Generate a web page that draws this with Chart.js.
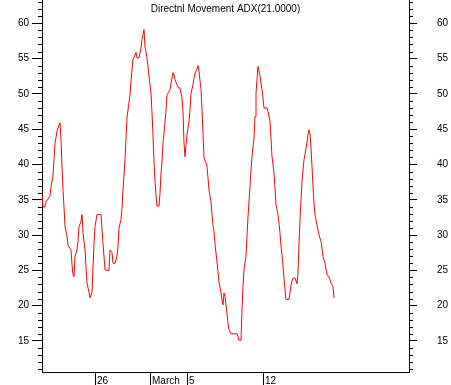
<!DOCTYPE html>
<html>
<head>
<meta charset="utf-8">
<script src="https://cdn.jsdelivr.net/npm/chart.js@4"></script>
<style>
  html, body { margin: 0; padding: 0; background: #fff; }
  #wrap { width: 451px; height: 385px; }
</style>
</head>
<body>
<div id="wrap"><canvas id="adx" width="451" height="385"></canvas></div>
<script>
// Bar number (intraday bars) and ADX value at that bar
const bars = [
  0,1,3,4,6,8,9,11,12,13,15,17,18,19,20,
  21,22,23,25,26,28,29,30,31,32,33,35,36,37,39,
  40,41,43,44,45,47,48,50,51,52,53,55,59,61,62,
  63,65,67,68,70,71,73,75,76,77,79,80,81,82,83,
  84,85,86,88,89,90,91,93,94,95,97,99,100,101,102,
  103,105,106,107,109,110,111,112,113,114,115,117,118,119,120,
  121,123,124,125,127,128,129,131,132,133,135,136,138,140,141,
  142,143,144,145,147,148,149,151,152,153,155,156,157,159,160,
  161,162,164,165,166,167,169,170,171,172,173,174,175,176,177,
  179,180,181,182,183,184,185,186,187,189,195,196,197,199,200,
  201,202,204,205,206,207,208,209,210,211,212,213,214,215,216,
  218,219,220,221,222,225,226,228,229,230,232,233,234,236,237,
  238,239,240,241,242,243,244,247,248,249,250,251,253,254,255,
  256,257,258,259,260,261,262,263,264,265,266,267,268,269,270,
  271,272,273,275,276,277,279,280,281,283,284,285,287,288,289,
  291,292
];
const adx = [
  35.7,34.0,34.0,34.7,35.1,35.5,36.9,38.3,40.7,43.0,44.7,45.6,45.9,43.5,39.7,
  36.4,34.0,31.2,29.8,28.6,28.1,27.9,25.8,24.4,24.1,27.0,27.9,29.1,31.2,31.9,
  32.9,30.3,27.9,25.5,23.2,21.9,21.1,21.9,25.5,28.8,31.2,32.9,32.9,28.8,27.0,
  25.1,25.0,25.0,27.9,27.5,26.0,26.0,27.0,28.4,31.0,32.2,33.8,36.4,38.5,40.7,
  43.7,46.6,47.7,49.9,51.8,53.4,54.9,55.5,55.9,55.1,55.1,56.5,57.7,58.4,59.1,
  56.7,55.1,53.9,52.5,50.1,47.3,44.2,40.4,37.6,35.7,34.1,34.1,35.9,38.8,40.4,
  43.0,45.9,47.7,49.9,50.3,50.6,51.5,53.0,52.7,52.0,51.3,50.9,50.8,49.4,47.5,
  43.0,41.1,42.8,44.2,46.1,47.7,50.1,51.3,52.2,52.9,53.5,54.0,53.2,50.6,47.7,
  44.4,40.9,40.2,39.7,38.1,36.4,34.7,32.9,31.4,30.5,28.8,27.4,26.2,24.8,23.3,
  21.8,20.8,20.1,21.8,21.3,20.1,18.9,17.5,16.6,16.0,16.0,15.6,15.1,15.1,19.4,
  22.7,25.1,27.0,29.8,32.6,34.7,36.9,39.2,41.1,42.5,43.7,46.8,50.1,52.0,53.9,
  52.5,51.5,50.6,49.4,48.0,48.0,47.5,46.1,43.7,41.1,38.8,36.6,34.3,32.9,31.7,
  30.3,28.4,27.2,25.5,23.9,22.2,20.9,20.9,21.8,22.9,23.5,23.9,23.9,23.5,23.1,
  24.6,28.8,32.2,35.0,37.6,39.2,40.7,41.4,42.3,43.2,44.2,44.9,44.4,42.3,39.7,
  36.9,34.5,32.9,31.4,30.7,30.0,29.1,28.1,27.0,26.0,25.1,24.4,24.0,23.7,23.2,
  22.7,21.1
];
const dateTicks = [53, 108, 145, 221];
const dateLabels = ['26', 'March', '5', '12'];
const yTicks = [15, 20, 25, 30, 35, 40, 45, 50, 55, 60];
const yMin = 10.6, yMax = 63.3;
const lastBar = 367;
const title = 'Directnl Movement ADX(21.0000)';

const FONT = '"Liberation Sans", Arial, sans-serif';

// minor ticks every unit + title drawn inside the plot
const extras = {
  id: 'extras',
  afterDraw(chart) {
    const {ctx, chartArea} = chart;
    const ys = chart.scales.y;
    ctx.save();
    ctx.strokeStyle = '#000';
    ctx.lineWidth = 1;
    ctx.beginPath();
    for (let v = Math.ceil(yMin); v <= Math.floor(yMax); v++) {
      if (v % 5 === 0) continue;
      const py = Math.round(ys.getPixelForValue(v)) + 0.5;
      ctx.moveTo(chartArea.left - 4, py); ctx.lineTo(chartArea.left, py);
      ctx.moveTo(chartArea.right, py); ctx.lineTo(chartArea.right + 4, py);
    }
    ctx.stroke();
    ctx.fillStyle = '#000';
    ctx.font = '10px ' + FONT;
    ctx.textAlign = 'center';
    ctx.textBaseline = 'middle';
    ctx.fillText(title, (chartArea.left + chartArea.right) / 2, 9);
    ctx.restore();
  }
};

const noPad = s => { s.paddingTop = 0; s.paddingBottom = 0; s.paddingLeft = 0; s.paddingRight = 0; };

new Chart(document.getElementById('adx'), {
  type: 'line',
  data: {
    datasets: [{
      data: bars.map((b, i) => ({x: b, y: adx[i]})),
      borderColor: '#ff0000',
      borderWidth: 1,
      pointRadius: 0,
      tension: 0,
      yAxisID: 'y'
    }]
  },
  options: {
    responsive: false,
    animation: false,
    layout: {padding: 0},
    plugins: {legend: {display: false}, tooltip: {enabled: false}},
    scales: {
      x: {
        type: 'linear', min: 0, max: lastBar,
        afterBuildTicks: s => { s.ticks = dateTicks.map(v => ({value: v})); },
        afterFit: s => { s.height = 13; noPad(s); },
        grid: {drawOnChartArea: false, color: '#000', tickLength: 13},
        border: {color: '#000'},
        ticks: {
          callback: (v, i) => dateLabels[i],
          align: 'start', labelOffset: 2, padding: -10, maxRotation: 0,
          color: '#000', font: {family: FONT, size: 10}
        }
      },
      y: {
        position: 'left', min: yMin, max: yMax,
        afterBuildTicks: s => { s.ticks = yTicks.map(v => ({value: v})); },
        afterFit: s => { s.width = 42; noPad(s); },
        grid: {drawOnChartArea: false, color: '#000', tickLength: 10},
        border: {color: '#000'},
        ticks: {padding: 3, color: '#000', font: {family: FONT, size: 10}}
      },
      y2: {
        position: 'right', min: yMin, max: yMax,
        afterBuildTicks: s => { s.ticks = yTicks.map(v => ({value: v})); },
        afterFit: s => { s.width = 42; noPad(s); },
        grid: {drawOnChartArea: false, color: '#000', tickLength: 8},
        border: {color: '#000'},
        ticks: {padding: 20, crossAlign: 'near', color: '#000', font: {family: FONT, size: 10}}
      }
    }
  },
  plugins: [extras]
});
</script>
</body>
</html>
